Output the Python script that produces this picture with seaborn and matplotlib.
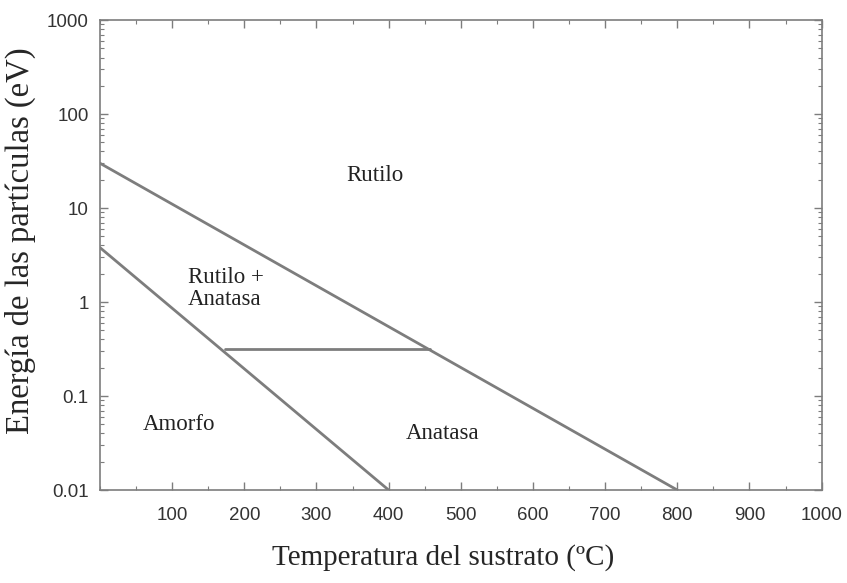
import numpy as np
import pandas as pd
import matplotlib
matplotlib.use("Agg")
import matplotlib.pyplot as plt
import matplotlib.ticker as mticker
import seaborn as sns

# phase boundary segments (temperature in C, energy in eV)
upper_T = [0, 800]
upper_E = [30, 0.01]
lower_T = [0, 400]
lower_E = [3.8, 0.01]
mid_T = [173, 457]
mid_E = [0.32, 0.32]

x_ticks = [100, 200, 300, 400, 500, 600, 700, 800, 900, 1000]
y_ticks = [0.01, 0.1, 1, 10, 100, 1000]
y_tick_labels = ["0.01", "0.1", "1", "10", "100", "1000"]

labels = ["Rutilo", "Rutilo +\nAnatasa", "Amorfo", "Anatasa"]
label_T = [381, 122, 109, 475]
label_E = [22, 1.4, 0.05, 0.04]

sns.set_style("ticks")
plt.rcParams['font.family'] = ['Liberation Sans', 'DejaVu Sans']

fig = plt.figure(figsize=(8.47, 5.83), dpi=100)
ax = fig.add_axes([0.118, 0.1595, 0.852, 0.806])

grey = "#7d7d7d"
segs = pd.concat([
    pd.DataFrame({"T": upper_T, "E": upper_E, "seg": "upper"}),
    pd.DataFrame({"T": lower_T, "E": lower_E, "seg": "lower"}),
    pd.DataFrame({"T": mid_T, "E": mid_E, "seg": "mid"}),
])
for name, d in segs.groupby("seg"):
    sns.lineplot(data=d, x="T", y="E", ax=ax, color=grey, linewidth=2, sort=False)

ax.set_yscale("log")
ax.set_xlim(0, 1000)
ax.set_ylim(0.01, 1000)
ax.set_xticks(x_ticks)
ax.xaxis.set_minor_locator(mticker.MultipleLocator(50))
ax.set_yticks(y_ticks)
ax.set_yticklabels(y_tick_labels)
ax.yaxis.set_minor_locator(mticker.LogLocator(base=10, subs=np.arange(2, 10)))
ax.yaxis.set_minor_formatter(mticker.NullFormatter())

ax.tick_params(which="both", direction="in", top=True, right=True, color=grey,
               labelcolor="#333333")
ax.tick_params(which="major", length=6, width=1, labelsize=13.5)
ax.tick_params(which="minor", length=3, width=0.8)
ax.tick_params(axis="x", which="major", pad=12)
ax.tick_params(axis="y", which="major", pad=8)
for s in ax.spines.values():
    s.set_color(grey)
    s.set_linewidth(1.2)

serif = ['Liberation Serif', 'DejaVu Serif']
ax.set_xlabel("Temperatura del sustrato (ºC)", family=serif, fontsize=21)
ax.xaxis.set_label_coords(0.475, -0.115)
ax.set_ylabel("Energía de las partículas (eV)", family=serif, fontsize=23.5)
ax.yaxis.set_label_coords(-0.088, 0.53)

for txt, t, e in zip(labels, label_T, label_E):
    ax.text(t, e, txt, family=serif, fontsize=16.5, ha="left" if "+" in txt else "center",
            va="center", color="#222222", linespacing=1.1)

fig.savefig("out.png", dpi=100)
